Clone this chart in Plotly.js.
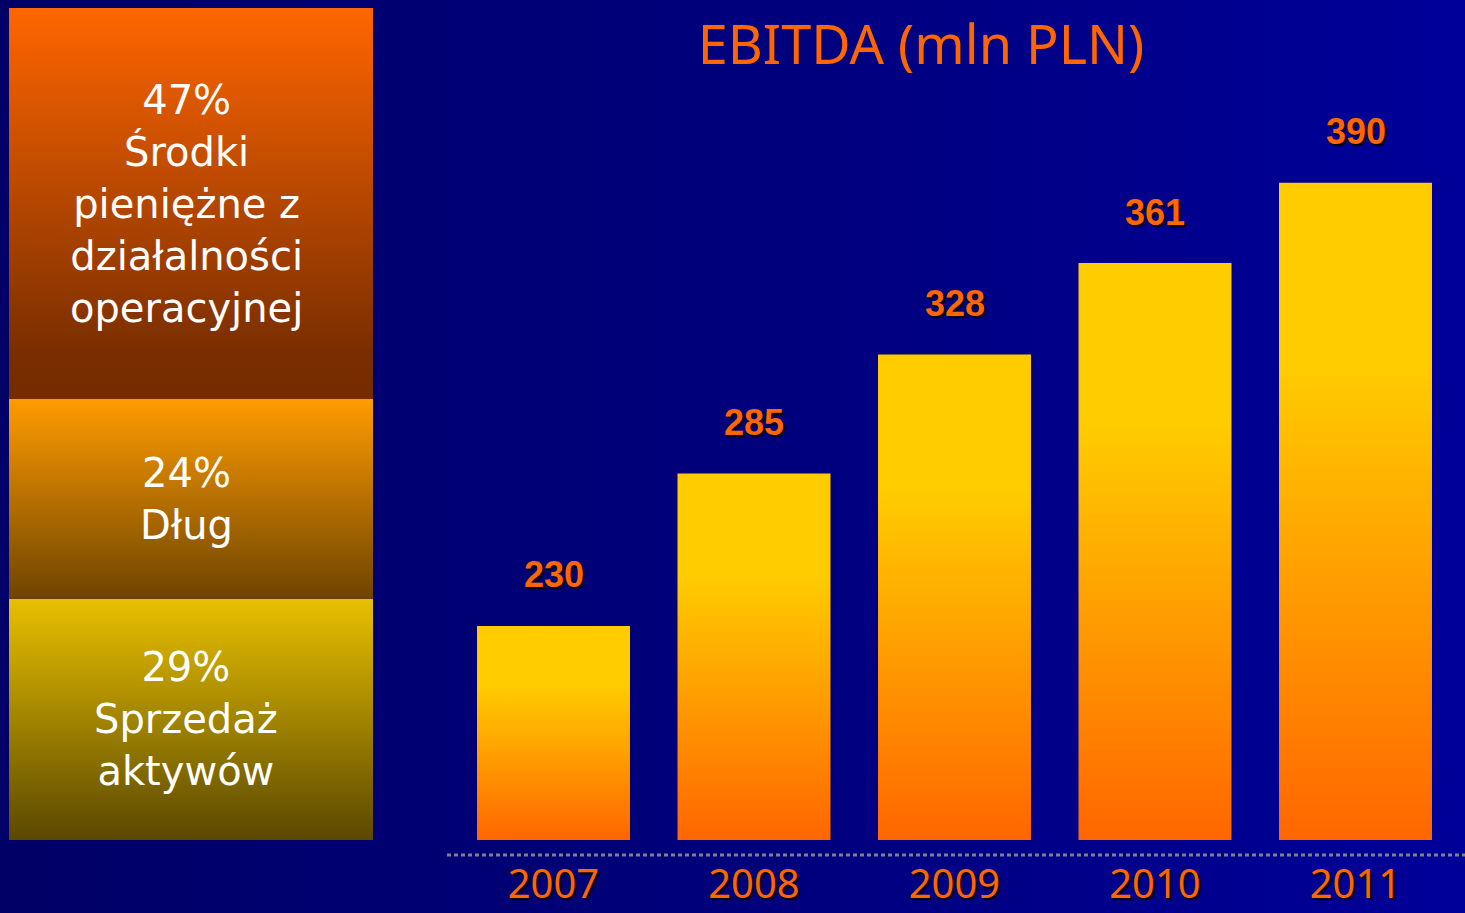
<!DOCTYPE html>
<html>
<head>
<meta charset="utf-8">
<script src="https://cdn.plot.ly/plotly-3.0.1.min.js"></script>
<style>
  html, body { margin: 0; padding: 0; width: 1465px; height: 913px; overflow: hidden;
    background: linear-gradient(to right, #000066 0%, #00007e 55%, #000099 100%); }
  #chart { width: 1465px; height: 913px; }
</style>
</head>
<body>
<div id="chart"></div>
<script>
// ---- data ----
const years = ['2007', '2008', '2009', '2010', '2011'];
const ebitda = [230, 285, 328, 361, 390];
const chartTitle = 'EBITDA (mln PLN)';
// financing sources, stacked from bottom to top
const sourceLabels = ['Sprzedaż<br>aktywów', 'Dług', 'Środki<br>pieniężne z<br>działalności<br>operacyjnej'];
const sourceShares = [29, 24, 47];

// ---- styles ----
const W = 1465, H = 913;
const ORANGE = '#ff6600';
const barScale = [[0, '#ff6600'], [0.72, '#ffcc00'], [1, '#ffcc00']];
const segScales = [
  [[0, '#5a4800'], [1, '#e8c000']],
  [[0, '#6e4400'], [1, '#ff9c00']],
  [[0, '#742c00'], [0.12, '#7a2e00'], [1, '#ff6600']]
];
const yMin = 152.7, yMax = 423.5;
const halfW = 0.3815;

const traces = [];
const annotations = [];

// EBITDA bars (gradient-filled polygons on x/y axes)
ebitda.forEach((v, i) => {
  traces.push({
    type: 'scatter', mode: 'lines', xaxis: 'x', yaxis: 'y',
    x: [i - halfW, i + halfW, i + halfW, i - halfW, i - halfW],
    y: [yMin, yMin, v, v, yMin],
    fill: 'toself',
    fillgradient: { type: 'vertical', colorscale: barScale },
    line: { width: 0, color: 'rgba(0,0,0,0)' },
    hoverinfo: 'skip', showlegend: false
  });
  annotations.push({
    xref: 'x', yref: 'y', x: i, y: v, yanchor: 'middle', yshift: 51,
    text: String(v), showarrow: false,
    font: { family: 'Liberation Sans, Arial, sans-serif', size: 36, color: ORANGE, weight: 700,
            shadow: '2px 2px 1px #000000' }
  });
});

// stacked financing-source block
let cum = 0;
sourceShares.forEach((s, i) => {
  const y0 = cum, y1 = cum + s;
  traces.push({
    type: 'scatter', mode: 'lines', xaxis: 'x2', yaxis: 'y2',
    x: [0, 1, 1, 0, 0],
    y: [y0, y0, y1, y1, y0],
    fill: 'toself',
    fillgradient: { type: 'vertical', colorscale: segScales[i] },
    line: { width: 0, color: 'rgba(0,0,0,0)' },
    hoverinfo: 'skip', showlegend: false
  });
  annotations.push({
    xref: 'x2', yref: 'y2', x: 0.5, y: (y0 + y1) / 2, xshift: -5,
    text: s + '%<br>' + sourceLabels[i], showarrow: false, align: 'center',
    font: { family: 'DejaVu Sans, sans-serif', size: 40, color: '#ffffff' }
  });
  cum = y1;
});

const layout = {
  width: W, height: H,
  margin: { l: 0, r: 0, t: 0, b: 0 },
  paper_bgcolor: 'rgba(0,0,0,0)',
  plot_bgcolor: 'rgba(0,0,0,0)',
  showlegend: false,
  title: {
    text: chartTitle, x: 921 / W, xanchor: 'center', xref: 'paper',
    y: 1 - 45 / H, yanchor: 'middle', yref: 'container',
    font: { family: 'Noto Sans, sans-serif', size: 54, color: ORANGE }
  },
  xaxis: {
    domain: [453.25 / W, 1455.75 / W], range: [-0.5, 4.5],
    tickvals: years.map((_, i) => i), ticktext: years,
    showgrid: false, zeroline: false, showline: false, ticks: '',
    ticklabelstandoff: 17,
    tickfont: { family: 'Noto Sans, sans-serif', size: 40, color: ORANGE, shadow: '2px 2px 1px #000000' },
    fixedrange: true
  },
  yaxis: {
    domain: [73 / H, (H - 90) / H], range: [yMin, yMax],
    visible: false, fixedrange: true
  },
  xaxis2: {
    domain: [9 / W, 373 / W], range: [0, 1], anchor: 'y2',
    visible: false, fixedrange: true
  },
  yaxis2: {
    domain: [73 / H, (H - 8) / H], range: [0, 100], anchor: 'x2',
    visible: false, fixedrange: true
  },
  shapes: [{
    type: 'line', xref: 'paper', yref: 'paper',
    x0: 447 / W, x1: 1, y0: (H - 855) / H, y1: (H - 855) / H,
    line: { color: '#80808c', width: 3, dash: '4px,3px' }
  }],
  annotations: annotations
};

Plotly.newPlot('chart', traces, layout, { staticPlot: true, displayModeBar: false });
</script>
</body>
</html>
